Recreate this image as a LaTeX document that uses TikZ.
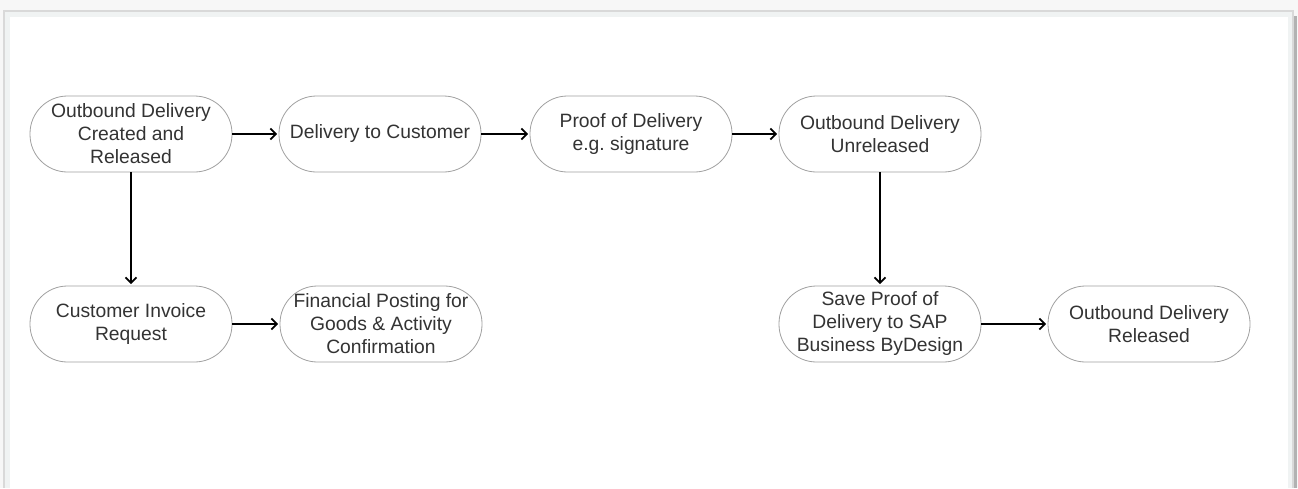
\documentclass[tikz,border=0pt]{standalone}
\usepackage{fontspec}
\setmainfont{Liberation Sans}
\usetikzlibrary{arrows.meta}
\definecolor{pagebg}{HTML}{F7F7F7}
\definecolor{framefill}{HTML}{F0F3F3}
\definecolor{nodeline}{HTML}{A0A0A0}
\definecolor{txt}{HTML}{333333}
\tikzset{
  stadium/.style={draw=nodeline, line width=0.8pt, fill=white, rounded corners=37.5pt,
    minimum width=202pt, minimum height=76pt, inner sep=0pt, align=center,
    text=txt, font=\fontsize{19.3}{23}\selectfont\frenchspacing},
  flow/.style={line width=1.8pt, -{Straight Barb[length=5.5pt,width=11pt,line width=1.8pt]}, shorten >=1.5pt}
}
\begin{document}
\begin{tikzpicture}[x=1pt,y=-1pt]
\useasboundingbox (0,0) rectangle (1298,488);
\fill[pagebg] (0,0) rectangle (1298,488);
% frame shadow
\fill[gray!60] (1292,16) rectangle (1297,488);
\fill[gray!30] (3,10) rectangle (1294,488);
\fill[framefill] (5,12) rectangle (1292,488);
\fill[white] (10,17) rectangle (1288,488);

\node[stadium] (n1) at (131,134) {Outbound Delivery\\Created and\\Released};
\node[stadium] (n2) at (380,134) {Delivery to Customer};
\node[stadium] (n3) at (631,134) {Proof of Delivery\\e.g. signature};
\node[stadium] (n4) at (880,134) {Outbound Delivery\\Unreleased};
\node[stadium] (n5) at (131,324) {Customer Invoice\\Request};
\node[stadium] (n6) at (381,324) {Financial Posting for\\Goods \& Activity\\Confirmation};
\node[stadium] (n7) at (880,324) {Save Proof of\\Delivery to SAP\\Business ByDesign};
\node[stadium] (n8) at (1149,324) {Outbound Delivery\\Released};

\draw[flow] (n1) -- (n2);
\draw[flow] (n2) -- (n3);
\draw[flow] (n3) -- (n4);
\draw[flow] (n1) -- (n5);
\draw[flow] (n5) -- (n6);
\draw[flow] (n4) -- (n7);
\draw[flow] (n7) -- (n8);
\end{tikzpicture}
\end{document}
